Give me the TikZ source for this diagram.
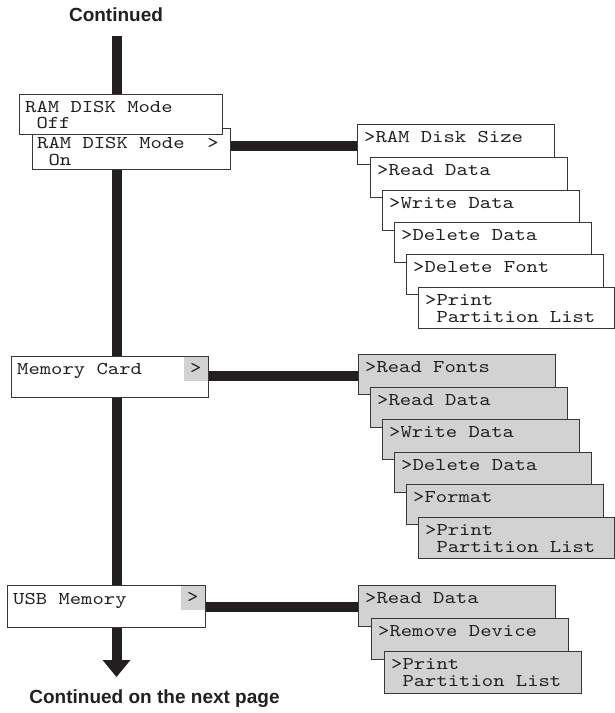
\documentclass[tikz,border=0pt]{standalone}
\usepackage{fontspec}
\setmainfont{Liberation Sans}
\newfontfamily\lcd[FakeStretch=1.2]{lmmono10-regular.otf}
\usetikzlibrary{calc,backgrounds}
\definecolor{ink}{RGB}{35,31,32}
\definecolor{lcdgrey}{RGB}{210,210,210}
\definecolor{edge}{RGB}{55,55,55}
\begin{document}
\begin{tikzpicture}[x=1pt,y=-1pt,
  bar/.style={draw=ink,line width=10pt},
  box/.style={draw=edge,line width=0.8pt,fill=white,anchor=north west,inner sep=0pt,minimum width=197pt,minimum height=40pt},
  greybox/.style={box,fill=lcdgrey},
  txt/.style={font=\lcd\fontsize{18}{18}\selectfont,text=ink,anchor=base west,inner sep=0pt},
  gt/.style={fill=lcdgrey,inner sep=0pt,minimum width=24.6pt,minimum height=24.6pt,anchor=north east,font=\lcd\fontsize{18}{18}\selectfont,text=ink},
  title/.style={font=\bfseries\fontsize{19}{19}\selectfont,text=ink,anchor=base,inner sep=0pt}]
\useasboundingbox (0,0) rectangle (615,713);

% titles
\node[title] (cont) at (116,21) {Continued};
\node[title] (next) at (154.5,703) {Continued on the next page};

% RAM DISK boxes
\node[box,minimum width=198pt,minimum height=41pt] (on) at (32,128) {};
\node[box,minimum width=203pt,minimum height=40pt] (off) at (19,94) {};
\node[txt] at ($(off.north west)+(6,18)$) {RAM DISK Mode};
\node[txt] at ($(off.north west)+(6,34)$) {\ Off};
\node[txt] at ($(on.north west)+(5,20)$) {RAM DISK Mode\ \ >};
\node[txt] at ($(on.north west)+(5,37)$) {\ On};

% RAM DISK submenu
\foreach \n/\x/\y/\t in {r1/357/124/{>RAM Disk Size},r2/370/157/{>Read Data},r3/382/190/{>Write Data},r4/394/222/{>Delete Data},r5/406/254/{>Delete Font}}{
  \node[box] (\n) at (\x,\y) {};
  \node[txt] at ($(\n.north west)+(7,18.5)$) {\t};
}
\node[box,minimum height=41pt,minimum width=196pt] (r6) at (418,287) {};
\node[txt] at ($(r6.north west)+(7,18.5)$) {>Print};
\node[txt] at ($(r6.north west)+(7,35.5)$) {\ Partition List};

% Memory Card
\node[box,minimum height=41pt] (mc) at (11,356) {};
\node[txt] at ($(mc.north west)+(6,18)$) {Memory Card};
\node[gt] (mcg) at ($(mc.north east)+(-0.4,0.4)$) {>};

\foreach \n/\x/\y/\t in {m1/358/354/{>Read Fonts},m2/370/387/{>Read Data},m3/382/419/{>Write Data},m4/394/452/{>Delete Data},m5/406/484/{>Format}}{
  \node[greybox] (\n) at (\x,\y) {};
  \node[txt] at ($(\n.north west)+(7,18.5)$) {\t};
}
\node[greybox,minimum height=41pt,minimum width=196pt] (m6) at (418,517) {};
\node[txt] at ($(m6.north west)+(7,18.5)$) {>Print};
\node[txt] at ($(m6.north west)+(7,35.5)$) {\ Partition List};

% USB Memory
\node[box,minimum width=198pt,minimum height=42pt] (usb) at (7,585) {};
\node[txt] at ($(usb.north west)+(6,19)$) {USB Memory};
\node[gt] (usbg) at ($(usb.north east)+(-0.4,0.4)$) {>};

\foreach \n/\x/\y/\t in {u1/358/585/{>Read Data},u2/371/618/{>Remove Device}}{
  \node[greybox,minimum height=41pt] (\n) at (\x,\y) {};
  \node[txt] at ($(\n.north west)+(7,18.5)$) {\t};
}
\node[greybox,minimum height=42pt] (u3) at (384,651) {};
\node[txt] at ($(u3.north west)+(7,18.5)$) {>Print};
\node[txt] at ($(u3.north west)+(7,35.5)$) {\ Partition List};

% bars behind the boxes
\coordinate (top) at (116.5,36);
\coordinate (abase) at (116.5,660);
\coordinate (tip) at (116.5,677);
\begin{pgfonlayer}{background}
  \draw[bar] (top) -- (abase);
  \fill[ink] ($(abase)+(-14,0)$) -- ($(abase)+(14,0)$) -- (tip) -- cycle;
  \draw[bar] (on.east |- 0,146) -- (r1.west |- 0,146);
  \draw[bar] (mc.east |- 0,376) -- (m1.west |- 0,376);
  \draw[bar] (usb.east |- 0,607) -- (u1.west |- 0,607);
\end{pgfonlayer}
\end{tikzpicture}
\end{document}
